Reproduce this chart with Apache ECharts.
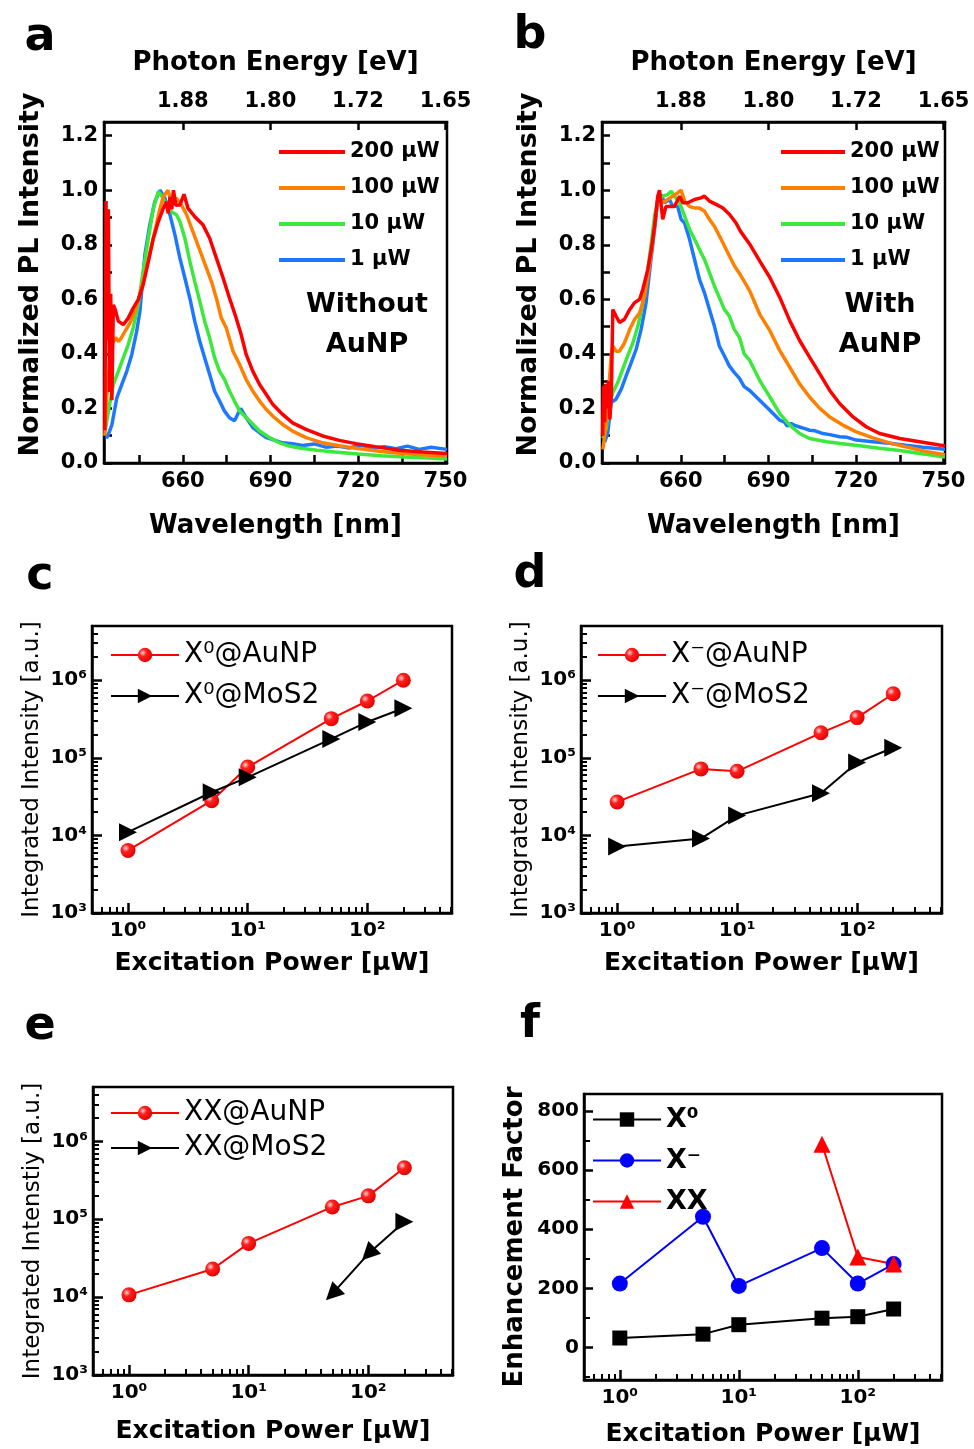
<!DOCTYPE html>
<html>
<head>
<meta charset="utf-8">
<script src="https://cdn.jsdelivr.net/npm/echarts@6/dist/echarts.min.js"></script>
<style>
  html, body { margin: 0; padding: 0; background: #fff; }
  #chart { width: 974px; height: 1449px; }
</style>
</head>
<body>
<div id="chart"></div>
<script>
// ---- tick labels ----
const nmLabels = [660, 690, 720, 750];
const nmTicks = [645, 660, 675, 690, 705, 720, 735, 750];
const energyLabels = ['1.88', '1.80', '1.72', '1.65'];
const plLabels = [0, 2, 4, 6, 8, 10, 12].map((i) => i / 10);
const plTicks = [0, 1, 2, 3, 4, 5, 6, 7, 8, 9, 10, 11, 12].map((i) => i / 10);
const logXLabels = [1, 10, 100];
const logYLabels = [1e3, 1e4, 1e5, 1e6];
const fLabels = [0, 200, 400, 600, 800];
const fMinor = [-100, 100, 300, 500, 700];

// ---- panel a: PL spectra without AuNP [nm, normalized intensity] ----
const specA200 = [[633.3,0.12],[633.7,0.96],[634.1,0.45],[634.5,0.93],[634.9,0.26],[635.3,0.62],[635.7,0.23],[636.2,0.58],[636.9,0.56],[637.9,0.52],[639.6,0.507],[641.3,0.531],[643.0,0.568],[644.7,0.598],[646.4,0.653],[648.2,0.739],[649.9,0.824],[651.6,0.885],[653.3,0.933],[654.4,0.958],[655.0,0.915],[655.6,0.975],[656.2,0.93],[656.8,1.0],[657.6,0.945],[659.0,0.946],[660.4,0.985],[661.8,0.933],[664.1,0.903],[666.9,0.873],[669.2,0.824],[671.5,0.751],[673.8,0.678],[676.0,0.604],[678.3,0.531],[680.0,0.47],[681.7,0.398],[684.0,0.336],[686.3,0.288],[688.6,0.251],[690.8,0.215],[694.2,0.178],[697.6,0.147],[702.2,0.123],[707.9,0.099],[713.6,0.083],[719.3,0.071],[726,0.06],[734,0.047],[742,0.04],[750.5,0.035]];
const specA100 = [[633.3,0.10],[634.0,0.25],[635.0,0.38],[636.0,0.44],[637.0,0.46],[638.0,0.445],[639.0,0.46],[640.2,0.483],[641.9,0.513],[643.6,0.556],[645.3,0.617],[647.0,0.69],[648.7,0.769],[650.4,0.848],[651.9,0.921],[653.3,0.976],[654.9,1.0],[656.0,0.96],[657.8,0.97],[659.5,0.946],[661.3,0.91],[663.0,0.861],[664.7,0.812],[666.4,0.763],[668.1,0.714],[669.8,0.665],[671.5,0.604],[673.2,0.531],[674.9,0.495],[677.2,0.41],[679.5,0.36],[681.7,0.306],[684.0,0.263],[686.3,0.227],[688.6,0.196],[690.8,0.172],[694.2,0.141],[697.6,0.117],[702.2,0.093],[707.9,0.074],[714,0.062],[720,0.053],[728,0.042],[735,0.035],[742,0.03],[750.5,0.025]];
const specA10 = [[633.4,0.117],[634.5,0.19],[636.2,0.288],[637.9,0.336],[639.6,0.385],[641.3,0.434],[643.0,0.495],[644.7,0.58],[646.4,0.702],[648.2,0.824],[649.9,0.933],[651.6,0.995],[652.7,0.98],[654.4,0.946],[656.1,0.921],[657.8,0.91],[659.0,0.885],[660.7,0.824],[662.4,0.739],[664.1,0.665],[665.8,0.593],[667.5,0.519],[669.2,0.458],[670.9,0.385],[672.6,0.336],[674.3,0.306],[676.0,0.263],[677.7,0.227],[679.5,0.19],[682.9,0.154],[686.3,0.117],[689.7,0.093],[693.1,0.074],[696.5,0.062],[700,0.055],[706,0.047],[712,0.04],[720,0.033],[728,0.027],[736,0.022],[744,0.018],[750.5,0.015]];
const specA1 = [[633.8,0.09],[634.5,0.105],[635.7,0.14],[637.4,0.239],[639.1,0.288],[640.8,0.336],[642.5,0.397],[644.2,0.483],[645.3,0.556],[647.0,0.763],[648.7,0.873],[650.4,0.958],[652.2,1.0],[653.9,0.97],[655.6,0.91],[657.3,0.836],[659.0,0.751],[660.7,0.678],[662.4,0.604],[664.1,0.519],[665.8,0.446],[667.5,0.385],[669.2,0.324],[670.9,0.263],[672.6,0.227],[674.3,0.19],[676.0,0.166],[677.7,0.155],[679.8,0.2],[681.7,0.166],[684.0,0.13],[686.3,0.111],[688.6,0.093],[690.8,0.086],[694.2,0.074],[697.6,0.071],[701,0.064],[705,0.07],[709,0.058],[713,0.062],[717,0.055],[721,0.066],[725,0.054],[729,0.06],[733,0.052],[737,0.062],[741,0.05],[745,0.058],[750.5,0.05]];

// ---- panel b: PL spectra with AuNP ----
const specB200 = [[633.2,0.10],[633.5,0.283],[633.9,0.15],[634.3,0.29],[634.7,0.20],[635.2,0.30],[635.7,0.16],[636.2,0.25],[636.7,0.563],[637.8,0.539],[639.0,0.515],[640.7,0.527],[642.5,0.563],[644.2,0.588],[645.9,0.60],[647.0,0.637],[648.7,0.71],[649.9,0.783],[651.0,0.868],[652.1,0.978],[652.7,1.0],[653.8,0.893],[654.9,0.94],[656.1,0.94],[657.8,0.94],[659.6,0.978],[660.7,0.954],[662.4,0.954],[664.7,0.966],[666.9,0.972],[668.1,0.978],[669.8,0.96],[672.1,0.948],[674.4,0.935],[676.7,0.911],[678.9,0.88],[680.4,0.85],[683.6,0.802],[687.0,0.741],[690.5,0.68],[693.9,0.607],[697.3,0.522],[700.7,0.449],[704.1,0.388],[707.6,0.327],[711.0,0.266],[714.4,0.218],[719.0,0.169],[723.6,0.132],[728.1,0.108],[735.0,0.09],[741.8,0.078],[748.6,0.066],[750.5,0.063]];
const specB100 = [[633.3,0.05],[634.5,0.15],[635.5,0.30],[636.2,0.40],[636.7,0.429],[637.8,0.41],[639.0,0.41],[640.7,0.44],[642.5,0.49],[644.2,0.527],[645.9,0.551],[647.6,0.612],[648.7,0.685],[649.9,0.77],[651.0,0.868],[652.1,0.966],[653.8,0.954],[655.5,0.966],[657.2,0.978],[658.9,0.99],[660.1,1.0],[661.3,0.96],[663.0,0.94],[664.7,0.935],[666.4,0.935],[668.1,0.923],[669.8,0.893],[671.5,0.868],[673.8,0.82],[676.1,0.771],[678.4,0.722],[680.4,0.69],[683.6,0.631],[687.0,0.546],[690.5,0.485],[693.9,0.412],[697.3,0.351],[700.7,0.29],[704.1,0.242],[707.6,0.2],[711.0,0.169],[715.5,0.139],[720.1,0.114],[725.8,0.092],[732.6,0.07],[740,0.052],[745,0.04],[750.5,0.03]];
const specB10 = [[633.3,0.09],[634.4,0.124],[635.6,0.222],[636.7,0.259],[638.4,0.295],[640.1,0.344],[641.8,0.393],[643.6,0.441],[645.3,0.502],[647.0,0.588],[648.7,0.71],[649.9,0.807],[651.0,0.905],[652.1,0.96],[653.8,0.978],[655.5,0.984],[656.7,0.996],[657.8,0.978],[659.6,0.954],[661.3,0.905],[663.0,0.856],[664.7,0.82],[666.4,0.783],[668.1,0.746],[669.8,0.698],[671.5,0.649],[673.2,0.606],[674.9,0.563],[676.6,0.539],[678.3,0.49],[680.1,0.46],[681.7,0.40],[683.6,0.376],[687.0,0.303],[690.5,0.242],[693.9,0.181],[697.3,0.139],[700.7,0.108],[704.1,0.09],[710,0.078],[716,0.07],[722,0.062],[728,0.054],[735,0.046],[742,0.035],[750.5,0.022]];
const specB1 = [[633.9,0.076],[635.0,0.112],[636.1,0.222],[637.8,0.234],[639.6,0.271],[641.3,0.32],[643.0,0.368],[644.7,0.417],[646.4,0.49],[648.1,0.588],[649.9,0.759],[651.0,0.856],[652.1,0.966],[653.3,0.984],[654.4,0.954],[656.1,0.966],[657.2,0.941],[658.9,0.941],[660.1,0.893],[661.3,0.88],[663.0,0.82],[664.7,0.746],[666.4,0.673],[668.1,0.624],[669.8,0.563],[671.5,0.502],[673.2,0.429],[674.9,0.393],[676.6,0.356],[678.3,0.332],[680.1,0.31],[681.7,0.28],[683.6,0.266],[687.0,0.23],[690.5,0.193],[693.9,0.157],[695.5,0.15],[696.5,0.135],[697.8,0.145],[699,0.138],[700.7,0.132],[702.5,0.126],[704.1,0.12],[706,0.118],[708.7,0.108],[711,0.104],[714.4,0.096],[717,0.094],[720.1,0.084],[725.8,0.078],[731.5,0.072],[737,0.065],[743,0.058],[750.5,0.05]];
const specNames = ['200 μW', '100 μW', '10 μW', '1 μW'];

// ---- panels c-f: power dependence ----
const power = [1, 5, 10, 50, 100, 200];
const cAunp = [6.4e3, 2.8e4, 7.6e4, 3.2e5, 5.4e5, 1.0e6];
const cMos = [1.1e4, 3.6e4, 5.6e4, 1.75e5, 2.9e5, 4.35e5];
const dAunp = [2.7e4, 7.2e4, 6.7e4, 2.1e5, 3.3e5, 6.7e5];
const dMos = [7.2e3, 9.1e3, 1.8e4, 3.5e4, 8.7e4, 1.35e5];
const eAunp = [1.07e4, 2.3e4, 4.9e4, 1.44e5, 2.0e5, 4.6e5];
const powerXX = [50, 100, 200];
const eMos = [1.1e4, 3.6e4, 9.3e4];
const fX0 = [32, 45, 77, 99, 104, 130];
const fXm = [216, 442, 208, 336, 216, 282];
const fXX = [687, 306, 282];

// ---- layout / style ----
const FONT = 'DejaVu Sans';
const rectA = [104, 122, 343, 341];
const rectB = [602, 122, 343, 341];
const rectC = [92, 626, 360, 287];
const rectD = [581, 626, 361, 287];
const rectE = [93, 1087, 360, 288];
const rectF = [584, 1094, 358, 286];
const eMosRotate = [135, 135, -90];
const SUP = { '0': '⁰', '1': '¹', '2': '²', '3': '³', '4': '⁴', '5': '⁵', '6': '⁶' };
const specColors = ['#ff0000', '#ff8000', '#3de83d', '#1e78ff'];
const lineBlack = { color: '#000', width: 2.5 };
const minorLine = { color: '#000', width: 2 };
const ballRed = { type: 'radial', x: 0.35, y: 0.35, r: 0.7, colorStops: [
  { offset: 0, color: '#ffd8d8' }, { offset: 0.35, color: '#ff2020' }, { offset: 1, color: '#e00000' }] };

const T = (size, weight) => ({ fontFamily: FONT, fontSize: size, fontWeight: weight || 'bold', color: '#000' });
const pow10 = (v) => '10' + SUP[String(Math.round(Math.log10(v)))];

const xMinor = [];
[0.1, 1, 10, 100].forEach((d) => { for (let k = 2; k <= 9; k++) { const v = +(d * k).toPrecision(3); if (v > 0.5 && v < 510) xMinor.push(v); } });
const yMinor = [];
[1e3, 1e4, 1e5, 1e6].forEach((d) => { for (let k = 2; k <= 9; k++) { const v = d * k; if (v < 5e6) yMinor.push(v); } });

function boxGrid(r) {
  return { left: r[0], top: r[1], width: r[2], height: r[3], show: true, borderColor: '#000', borderWidth: 2.5,
    backgroundColor: 'transparent', containLabel: false, outerBoundsMode: 'none' };
}
function ghostGrid(r) {
  return { left: r[0], top: r[1], width: r[2], height: r[3], show: false, containLabel: false, outerBoundsMode: 'none' };
}
// axis that only carries the short minor ticks, laid over a main grid
function ghost(base, values) {
  return { ...base, axisLine: { show: false, onZero: false }, axisLabel: { show: false }, splitLine: { show: false },
    axisTick: { show: true, inside: true, length: 6, lineStyle: minorLine, customValues: values } };
}

function nmAxis(g, pos) {
  const top = pos === 'top';
  return {
    gridIndex: g, type: 'value', position: pos, min: 633, max: 750.5,
    axisLine: { show: true, onZero: false, lineStyle: lineBlack },
    axisTick: { show: true, inside: true, length: 8, lineStyle: lineBlack, customValues: top ? nmLabels : nmTicks },
    axisLabel: { show: true, margin: top ? 10 : 8, customValues: nmLabels, ...T(21),
      formatter: (v) => top ? energyLabels[nmLabels.indexOf(Math.round(v))] : String(v) },
    splitLine: { show: false },
    name: top ? 'Photon Energy [eV]' : 'Wavelength [nm]', nameLocation: 'middle', nameGap: top ? 46 : 50, nameTextStyle: T(26)
  };
}
function plAxis(g) {
  return {
    gridIndex: g, type: 'value', min: 0, max: 1.25,
    axisLine: { show: true, onZero: false, lineStyle: lineBlack },
    axisTick: { show: true, inside: true, length: 8, lineStyle: lineBlack, customValues: plTicks },
    axisLabel: { show: true, margin: 6, customValues: plLabels, ...T(21), formatter: (v) => Number(v).toFixed(1) },
    splitLine: { show: false },
    name: 'Normalized PL Intensity', nameLocation: 'middle', nameGap: 60,
    nameTextStyle: { ...T(27), padding: [0, 0, 0, 36] }
  };
}
function powerAxis(g, isGhost, gap) {
  const base = { gridIndex: g, type: 'log', logBase: 10, min: 0.5, max: 510 };
  if (isGhost) return ghost(base, xMinor);
  return { ...base, splitLine: { show: false },
    axisLine: { show: true, onZero: false, lineStyle: lineBlack },
    axisTick: { show: true, inside: true, length: 10, lineStyle: lineBlack, customValues: logXLabels },
    axisLabel: { show: true, margin: 8, customValues: logXLabels, formatter: pow10, ...T(20) },
    name: 'Excitation Power [μW]', nameLocation: 'middle', nameGap: gap, nameTextStyle: T(25) };
}
function intensityAxis(g, isGhost, name, gap) {
  const base = { gridIndex: g, type: 'log', logBase: 10, min: 1e3, max: 5e6 };
  if (isGhost) return ghost(base, yMinor);
  return { ...base, splitLine: { show: false },
    axisLine: { show: true, onZero: false, lineStyle: lineBlack },
    axisTick: { show: true, inside: true, length: 10, lineStyle: lineBlack, customValues: logYLabels },
    axisLabel: { show: true, margin: 5, customValues: logYLabels, formatter: pow10, ...T(20) },
    name, nameLocation: 'middle', nameGap: gap, nameTextStyle: T(23, 'normal') };
}
function enhAxis(g, isGhost) {
  const base = { gridIndex: g, type: 'value', min: -110, max: 857 };
  if (isGhost) return ghost(base, fMinor);
  return { ...base, splitLine: { show: false },
    axisLine: { show: true, onZero: false, lineStyle: lineBlack },
    axisTick: { show: true, inside: true, length: 9, lineStyle: lineBlack, customValues: fLabels },
    axisLabel: { show: true, margin: 5, customValues: fLabels, ...T(20) },
    name: 'Enhancement Factor', nameLocation: 'middle', nameGap: 56, nameTextStyle: T(26) };
}

function spec(name, data, color, axis) {
  return { type: 'line', name, data, xAxisIndex: axis, yAxisIndex: axis === 0 ? 0 : 1, symbol: 'none',
    lineStyle: { color, width: 3.5 }, itemStyle: { color }, clip: true };
}
function pts(xs, ys) { return xs.map((x, i) => [x, ys[i]]); }
function aunp(name, ys, xi, yi) {
  return { type: 'line', name, data: pts(power, ys), xAxisIndex: xi, yAxisIndex: yi, symbol: 'circle', symbolSize: 15,
    lineStyle: { color: '#ff0000', width: 2 }, itemStyle: { color: ballRed } };
}
function mos(name, xs, ys, xi, yi, rot) {
  const data = pts(xs, ys).map((p, i) => rot ? { value: p, symbolRotate: rot[i] } : p);
  return { type: 'line', name, data, xAxisIndex: xi, yAxisIndex: yi, symbol: 'triangle', symbolRotate: -90, symbolSize: 18,
    lineStyle: { color: '#000', width: 2 }, itemStyle: { color: '#000' } };
}
function legendBox(names, left, top, gap, opts) {
  return Object.assign({ data: names, left, top, orient: 'vertical', itemWidth: 68, itemHeight: 18, itemGap: gap,
    selectedMode: false, textStyle: { ...T(28, 'normal'), lineHeight: 24 } }, opts || {});
}
function letter(ch, x, y) {
  return { type: 'text', x, y, style: { text: ch, font: 'bold 46px "DejaVu Sans"', fill: '#000', textAlign: 'center', textVerticalAlign: 'middle' } };
}

const chart = echarts.init(document.getElementById('chart'), null, { renderer: 'canvas' });
chart.setOption({
  animation: false,
  backgroundColor: '#fff',
  textStyle: { fontFamily: FONT },
  grid: [boxGrid(rectA), boxGrid(rectB), boxGrid(rectC), ghostGrid(rectC), boxGrid(rectD), ghostGrid(rectD),
    boxGrid(rectE), ghostGrid(rectE), boxGrid(rectF), ghostGrid(rectF)],
  xAxis: [
    nmAxis(0, 'bottom'), nmAxis(0, 'top'), nmAxis(1, 'bottom'), nmAxis(1, 'top'),
    powerAxis(2, false, 38), powerAxis(3, true), powerAxis(4, false, 38), powerAxis(5, true),
    powerAxis(6, false, 44), powerAxis(7, true), powerAxis(8, false, 42), powerAxis(9, true)
  ],
  yAxis: [
    plAxis(0), plAxis(1),
    intensityAxis(2, false, 'Integrated Intensity [a.u.]', 48), intensityAxis(3, true),
    intensityAxis(4, false, 'Integrated Intensity [a.u.]', 48), intensityAxis(5, true),
    intensityAxis(6, false, 'Integrated Intenstiy [a.u.]', 48), intensityAxis(7, true),
    enhAxis(8, false), enhAxis(9, true)
  ],
  legend: [
    legendBox(specNames, 274, 136, 14, { icon: 'rect', itemWidth: 66, itemHeight: 4, textStyle: { ...T(21), lineHeight: 22 } }),
    legendBox(['200 μW ', '100 μW ', '10 μW ', '1 μW '], 776, 136, 14, { icon: 'rect', itemWidth: 64, itemHeight: 4, textStyle: { ...T(21), lineHeight: 22 } }),
    legendBox(['X⁰@AuNP', 'X⁰@MoS2'], 105, 636, 13),
    legendBox(['X⁻@AuNP', 'X⁻@MoS2'], 592, 636, 13),
    legendBox(['XX@AuNP', 'XX@MoS2'], 105, 1094, 7),
    legendBox(['X⁰', 'X⁻', 'XX'], 587, 1101, 14, { textStyle: { ...T(27), lineHeight: 24 } })
  ],
  graphic: [
    letter('a', 40, 38), letter('b', 530, 36), letter('c', 40, 577),
    letter('d', 530, 575), letter('e', 40, 1027), letter('f', 530, 1025),
    { type: 'text', x: 367, y: 325, style: { text: 'Without\nAuNP', font: 'bold 27px "DejaVu Sans"', lineHeight: 40, fill: '#000', textAlign: 'center', textVerticalAlign: 'middle' } },
    { type: 'text', x: 880, y: 325, style: { text: 'With\nAuNP', font: 'bold 27px "DejaVu Sans"', lineHeight: 40, fill: '#000', textAlign: 'center', textVerticalAlign: 'middle' } }
  ],
  series: [
    spec('1 μW', specA1, specColors[3], 0), spec('10 μW', specA10, specColors[2], 0),
    spec('100 μW', specA100, specColors[1], 0), spec('200 μW', specA200, specColors[0], 0),
    spec('1 μW ', specB1, specColors[3], 2), spec('10 μW ', specB10, specColors[2], 2),
    spec('100 μW ', specB100, specColors[1], 2), spec('200 μW ', specB200, specColors[0], 2),
    aunp('X⁰@AuNP', cAunp, 4, 2), mos('X⁰@MoS2', power, cMos, 4, 2),
    aunp('X⁻@AuNP', dAunp, 6, 4), mos('X⁻@MoS2', power, dMos, 6, 4),
    aunp('XX@AuNP', eAunp, 8, 6), mos('XX@MoS2', powerXX, eMos, 8, 6, eMosRotate),
    { type: 'line', name: 'X⁰', data: pts(power, fX0), xAxisIndex: 10, yAxisIndex: 8, symbol: 'rect', symbolSize: 15,
      lineStyle: { color: '#000', width: 2 }, itemStyle: { color: '#000' } },
    { type: 'line', name: 'X⁻', data: pts(power, fXm), xAxisIndex: 10, yAxisIndex: 8, symbol: 'circle', symbolSize: 16,
      lineStyle: { color: '#0000ff', width: 2 }, itemStyle: { color: '#0000ff' } },
    { type: 'line', name: 'XX', data: pts(powerXX, fXX), xAxisIndex: 10, yAxisIndex: 8, symbol: 'triangle', symbolSize: 17,
      lineStyle: { color: '#ff0000', width: 2 }, itemStyle: { color: '#ff0000' } }
  ]
});
</script>
</body>
</html>
